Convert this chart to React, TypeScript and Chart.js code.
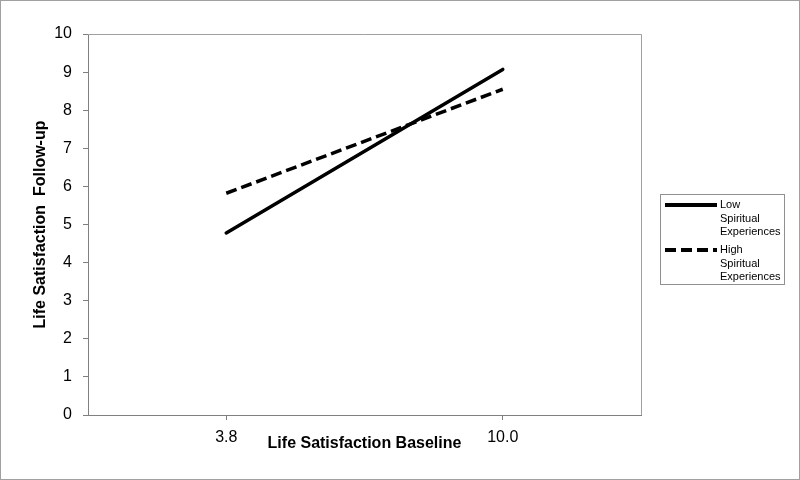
import React, { useEffect, useRef } from "react";
import { Chart, registerables } from "chart.js";

Chart.register(...registerables);

const categories = ["3.8", "10.0"];
const lowSpiritual = [4.78, 9.07];
const highSpiritual = [5.82, 8.55];
const seriesNames = ["Low Spiritual Experiences", "High Spiritual Experiences"];
const yTitle = "Life Satisfaction  Follow-up";
const xTitle = "Life Satisfaction Baseline";

const FONT = "'Liberation Sans', Arial, sans-serif";

const framePlugin = {
  id: "frame",
  beforeDraw(chart: any) {
    const ctx = chart.ctx;
    ctx.save();
    ctx.fillStyle = "#ffffff";
    ctx.fillRect(0, 0, chart.width, chart.height);
    ctx.restore();
  },
  afterDraw(chart: any) {
    const ctx = chart.ctx;
    const a = chart.chartArea;
    ctx.save();
    // outer border
    ctx.strokeStyle = "#a0a0a0";
    ctx.lineWidth = 1;
    ctx.strokeRect(0.5, 0.5, chart.width - 1, chart.height - 1);
    // plot area top/right border
    ctx.strokeStyle = "#a0a0a0";
    ctx.beginPath();
    ctx.moveTo(a.left, Math.round(a.top) + 0.5);
    ctx.lineTo(Math.round(a.right) + 0.5, Math.round(a.top) + 0.5);
    ctx.lineTo(Math.round(a.right) + 0.5, a.bottom);
    ctx.stroke();

    // legend
    const bx = 660.5, by = 194.5, bw = 124, bh = 90;
    ctx.strokeStyle = "#909090";
    ctx.lineWidth = 1;
    ctx.strokeRect(bx, by, bw, bh);
    const lineH = 13.5;
    const starts = [205, 250];
    chart.data.datasets.forEach((ds: any, i: number) => {
      const y0 = starts[i];
      ctx.save();
      ctx.strokeStyle = ds.borderColor;
      ctx.lineWidth = 4;
      ctx.setLineDash(ds.borderDash || []);
      ctx.beginPath();
      ctx.moveTo(665, y0);
      ctx.lineTo(717, y0);
      ctx.stroke();
      ctx.restore();
      ctx.fillStyle = "#000000";
      ctx.font = `11px ${FONT}`;
      ctx.textBaseline = "middle";
      ctx.textAlign = "left";
      String(ds.label)
        .split(" ")
        .forEach((w: string, j: number) => {
          ctx.fillText(w, 720, y0 + j * lineH);
        });
    });
    ctx.restore();
  },
};

export default function App() {
  const ref = useRef<HTMLCanvasElement>(null);
  useEffect(() => {
    document.body.style.margin = "0";
    const chart = new Chart(ref.current as HTMLCanvasElement, {
      type: "line",
      data: {
        labels: categories,
        datasets: [
          {
            label: seriesNames[0],
            data: lowSpiritual,
            borderColor: "#000000",
            borderWidth: 3.5,
            pointRadius: 0,
            tension: 0,
            borderCapStyle: "round",
          },
          {
            label: seriesNames[1],
            data: highSpiritual,
            borderColor: "#000000",
            borderWidth: 3.5,
            borderDash: [11, 5],
            pointRadius: 0,
            tension: 0,
          },
        ],
      },
      options: {
        responsive: false,
        animation: false,
        layout: { padding: { left: 0, right: 159, top: 34, bottom: 0 } },
        plugins: { legend: { display: false }, tooltip: { enabled: false } },
        scales: {
          x: {
            type: "category",
            offset: true,
            afterFit: (s: any) => {
              s.height = 65;
            },
            grid: {
              display: true,
              drawOnChartArea: false,
              drawTicks: true,
              tickLength: 5,
              offset: false,
              color: "#808080",
            },
            border: { display: true, color: "#808080", width: 1 },
            ticks: {
              color: "#000000",
              font: { family: FONT, size: 16 },
              padding: 8,
              maxRotation: 0,
            },
            title: {
              display: true,
              text: xTitle,
              color: "#000000",
              font: { family: FONT, size: 16, weight: "bold" },
              padding: { top: 0, bottom: 27 },
            },
          },
          y: {
            min: 0,
            max: 10,
            afterFit: (s: any) => {
              s.width = 88;
            },
            grid: {
              display: true,
              drawOnChartArea: false,
              drawTicks: true,
              tickLength: 5,
              color: "#808080",
            },
            border: { display: true, color: "#808080", width: 1 },
            ticks: {
              stepSize: 1,
              color: "#000000",
              font: { family: FONT, size: 16 },
              padding: 11,
            },
            title: {
              display: true,
              text: yTitle,
              color: "#000000",
              font: { family: FONT, size: 16, weight: "bold" },
              padding: { top: 31, bottom: 0 },
            },
          },
        },
      },
      plugins: [framePlugin],
    } as any);
    return () => chart.destroy();
  }, []);
  return (
    <div style={{ width: 800, height: 480 }}>
      <canvas ref={ref} width={800} height={480} />
    </div>
  );
}
